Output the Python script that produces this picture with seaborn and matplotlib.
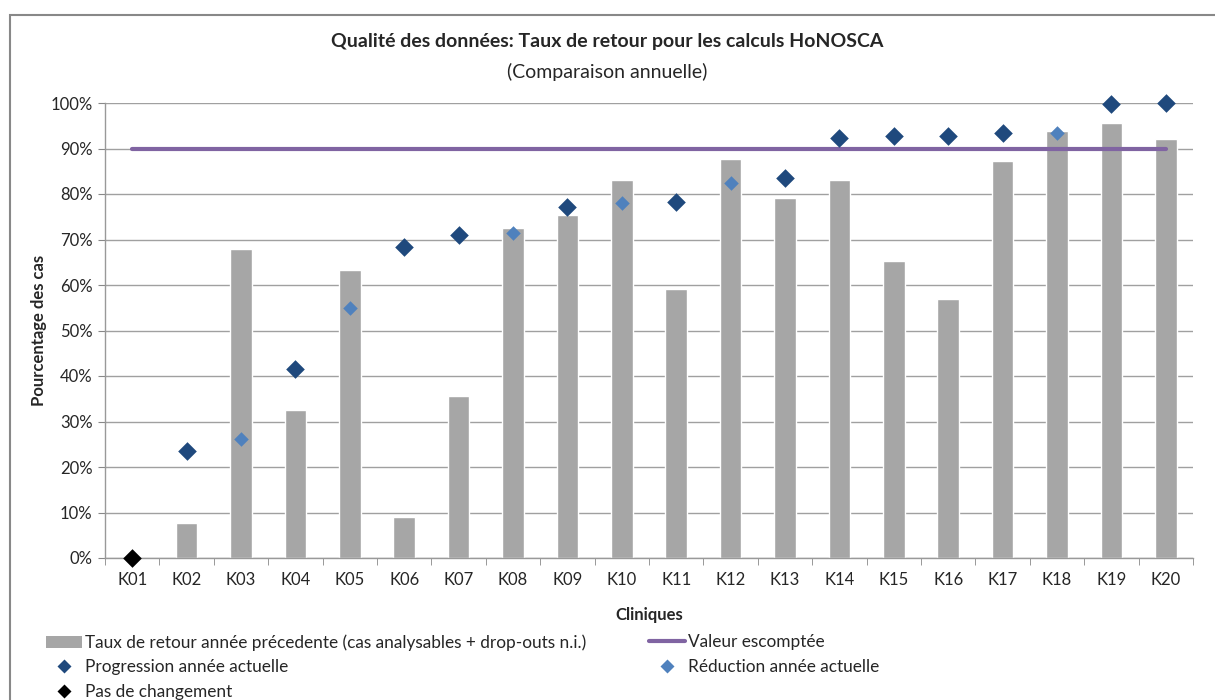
import numpy as np
import pandas as pd
import seaborn as sns
import matplotlib.pyplot as plt
from matplotlib.lines import Line2D
from matplotlib.patches import Patch, Rectangle

#%% data (percent)
cliniques = ['K01', 'K02', 'K03', 'K04', 'K05', 'K06', 'K07', 'K08', 'K09', 'K10',
             'K11', 'K12', 'K13', 'K14', 'K15', 'K16', 'K17', 'K18', 'K19', 'K20']
taux_precedent = [0, 7.7, 68.0, 32.5, 63.3, 9.0, 35.7, 72.6, 75.3, 83.0,
                  59.2, 87.7, 79.2, 83.0, 65.3, 57.0, 87.3, 93.9, 95.7, 92.0]

progression_cli = ['K02', 'K04', 'K06', 'K07', 'K09', 'K11', 'K13', 'K14', 'K15', 'K16', 'K17', 'K19', 'K20']
progression_val = [23.6, 41.5, 68.3, 70.9, 77.2, 78.3, 83.6, 92.2, 92.8, 92.8, 93.4, 99.7, 100.0]

reduction_cli = ['K03', 'K05', 'K08', 'K10', 'K12', 'K18']
reduction_val = [26.2, 54.9, 71.5, 78.1, 82.4, 93.5]

pas_cli = ['K01']
pas_val = [0.0]

valeur_escomptee = 90

#%% dataframes
bars = pd.DataFrame({'clinique': cliniques, 'taux': taux_precedent})
prog = pd.DataFrame({'clinique': progression_cli, 'val': progression_val})
red = pd.DataFrame({'clinique': reduction_cli, 'val': reduction_val})
pas = pd.DataFrame({'clinique': pas_cli, 'val': pas_val})
ligne = pd.DataFrame({'clinique': cliniques, 'val': [valeur_escomptee] * len(cliniques)})

pos = {c: i for i, c in enumerate(cliniques)}
for d in (prog, red, pas, ligne):
    d['x'] = d['clinique'].map(pos)

#%% plot
sns.set_style("white")
plt.rcParams['font.family'] = ['Lato', 'DejaVu Sans']

c_bar = '#A6A6A6'
c_prog = '#1F497D'
c_red = '#4F81BD'
c_line = '#8064A2'

fig = plt.figure(figsize=(12.15, 7), dpi=100)
ax = fig.add_axes([105 / 1215, 1 - 558 / 700, (1193 - 105) / 1215, (558 - 103) / 700])

sns.barplot(data=bars, x='clinique', y='taux', color=c_bar, width=0.4,
            saturation=1, ax=ax, zorder=2)
sns.lineplot(data=ligne, x='x', y='val', color=c_line, linewidth=3, ax=ax, zorder=3)
sns.scatterplot(data=prog, x='x', y='val', marker='D', s=90, color=c_prog,
                edgecolor=c_prog, linewidth=0, ax=ax, zorder=4, clip_on=False)
sns.scatterplot(data=red, x='x', y='val', marker='D', s=55, color=c_red,
                edgecolor=c_red, linewidth=0, ax=ax, zorder=4, clip_on=False)
sns.scatterplot(data=pas, x='x', y='val', marker='D', s=90, color='black',
                edgecolor='black', linewidth=0, ax=ax, zorder=5, clip_on=False)

ax.set_xlim(-0.5, len(cliniques) - 0.5)
ax.set_ylim(0, 100)
ax.set_yticks(np.arange(0, 101, 10))
ax.set_yticklabels([f'{v}%' for v in range(0, 101, 10)], fontsize=12)
ax.set_xticks(range(len(cliniques)))
ax.set_xticklabels(cliniques, fontsize=12)
ax.tick_params(axis='x', length=0, pad=10)
ax.tick_params(axis='y', length=5, color='#888888', pad=4, left=True)
ax.set_xticks(np.arange(-0.5, len(cliniques)), minor=True)
ax.tick_params(axis='x', which='minor', length=5, color='#888888', bottom=True)
ax.grid(axis='y', color='#A0A0A0', linewidth=1, zorder=0)
ax.set_axisbelow(True)
for s in ['top', 'right']:
    ax.spines[s].set_visible(False)
for s in ['left', 'bottom']:
    ax.spines[s].set_color('#999999')
    ax.spines[s].set_linewidth(1)

ax.set_xlabel('Cliniques', fontsize=12, fontweight='bold', labelpad=14)
ax.set_ylabel('Pourcentage des cas', fontsize=12, fontweight='bold')
ax.yaxis.set_label_coords((47 - 105) / 1088, 0.5)

fig.text(0.5, 1 - 42 / 700, 'Qualité des données: Taux de retour pour les calculs HoNOSCA',
         ha='center', va='center', fontsize=14, fontweight='bold')
fig.text(0.5, 1 - 72 / 700, '(Comparaison annuelle)', ha='center', va='center', fontsize=14)

# outer chart border (right and bottom edges fall outside the picture)
fig.patches.append(Rectangle((10 / 1215, -0.05), 1.05, 1.05 - 15 / 700,
                             transform=fig.transFigure, fill=False,
                             edgecolor='#888888', linewidth=1.5))

h_bar = Patch(facecolor=c_bar, edgecolor='none')
h_prog = Line2D([], [], marker='D', color='none', markerfacecolor=c_prog,
                markeredgecolor='none', markersize=7)
h_red = Line2D([], [], marker='D', color='none', markerfacecolor=c_red,
               markeredgecolor='none', markersize=7)
h_pas = Line2D([], [], marker='D', color='none', markerfacecolor='black',
               markeredgecolor='none', markersize=7)
h_line = Line2D([], [], color=c_line, linewidth=3)

leg_kw = dict(frameon=False, fontsize=12.4, handlelength=2.1, handletextpad=0.15,
              labelspacing=0.5, borderaxespad=0, borderpad=0)
fig.legend([h_bar, h_prog, h_pas],
           ['Taux de retour année précedente (cas analysables + drop-outs n.i.)',
            'Progression année actuelle', 'Pas de changement'],
           loc='upper left', bbox_to_anchor=(46 / 1215, 1 - 634 / 700), **leg_kw)
fig.legend([h_line, h_red], ['Valeur escomptée', 'Réduction année actuelle'],
           loc='upper left', bbox_to_anchor=(649 / 1215, 1 - 634 / 700), **leg_kw)

fig.savefig('out.png', dpi=100)
